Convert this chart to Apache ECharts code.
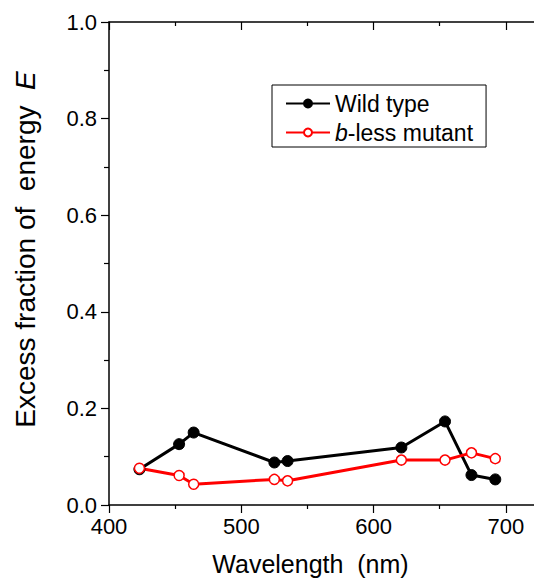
<!DOCTYPE html>
<html>
<head>
<meta charset="utf-8">
<script src="https://cdn.jsdelivr.net/npm/echarts@6/dist/echarts.min.js"></script>
<style>
  html, body { margin: 0; padding: 0; background: #fff; overflow: hidden; }
  /* the plot frame runs past the right edge of the picture */
  #chart { width: 575px; height: 581px; }
</style>
</head>
<body>
<div id="chart"></div>
<script>
// wavelength (nm) and excess fraction of energy E
var wildWl = [423, 453, 464, 525, 535, 621, 654, 674, 692];
var wildE = [0.074, 0.126, 0.150, 0.088, 0.091, 0.119, 0.173, 0.062, 0.053];
var mutantWl = [423, 453, 464, 525, 535, 621, 654, 674, 692];
var mutantE = [0.076, 0.061, 0.043, 0.053, 0.050, 0.093, 0.093, 0.108, 0.096];
var seriesNames = ['Wild type', 'b-less mutant'];

function pairs(xs, ys) {
  return xs.map(function(x, i) { return [x, ys[i]]; });
}

var font = 'Liberation Sans, Arial, sans-serif';
var chart = echarts.init(document.getElementById('chart'), null, { renderer: 'svg' });

var xBase = {
  type: 'value',
  min: 400,
  max: 750,
  interval: 100,
  axisLine: { lineStyle: { color: '#000', width: 1.5 } },
  splitLine: { show: false },
  minorTick: { show: true, splitNumber: 2, length: 4, lineStyle: { color: '#000', width: 1.2 } }
};

chart.setOption({
  animation: false,
  backgroundColor: '#fff',
  grid: { left: 109, right: 0, top: 22, bottom: 74 },
  legend: {
    orient: 'vertical',
    left: 272,
    top: 85,
    padding: [7, 13, 3, 13],
    itemGap: 6,
    itemWidth: 44,
    itemHeight: 10,
    borderColor: '#000',
    borderWidth: 1,
    borderRadius: 0,
    data: seriesNames,
    formatter: function(name) {
      return name === 'b-less mutant' ? '{it|b}-less mutant' : name;
    },
    textStyle: {
      fontFamily: font, fontSize: 23, color: '#000', lineHeight: 23,
      rich: { it: { fontFamily: font, fontSize: 23, fontStyle: 'italic', color: '#000' } }
    }
  },
  xAxis: [
    Object.assign({}, xBase, {
      position: 'bottom',
      name: 'Wavelength  (nm)',
      nameLocation: 'middle',
      nameGap: 46,
      nameTextStyle: { fontFamily: font, fontSize: 25, color: '#000', padding: [0, 60, 0, 0] },
      axisTick: { show: true, inside: false, length: 8, lineStyle: { color: '#000', width: 1.2 } },
      axisLabel: {
        fontFamily: font, fontSize: 22, color: '#000', margin: 10,
        formatter: function(v) { return v % 100 === 0 ? String(v) : ''; }
      }
    }),
    Object.assign({}, xBase, {
      position: 'top',
      axisTick: { show: true, inside: true, length: 8, lineStyle: { color: '#000', width: 1.2 } },
      axisLabel: { show: false }
    })
  ],
  yAxis: {
    type: 'value',
    min: 0,
    max: 1,
    interval: 0.2,
    name: 'Excess fraction of  energy  {it|E}',
    nameLocation: 'middle',
    nameGap: 70,
    nameTextStyle: {
      fontFamily: font, fontSize: 28, color: '#000', padding: [0, 0, 0, 28],
      rich: { it: { fontFamily: font, fontSize: 28, fontStyle: 'italic', color: '#000' } }
    },
    axisLine: { show: true, lineStyle: { color: '#000', width: 1.5 } },
    axisTick: { show: true, inside: false, length: 8, lineStyle: { color: '#000', width: 1.2 } },
    minorTick: { show: true, splitNumber: 2, length: 5, lineStyle: { color: '#000', width: 1.2 } },
    splitLine: { show: false },
    axisLabel: {
      fontFamily: font, fontSize: 22, color: '#000', margin: 12,
      formatter: function(v) { return v.toFixed(1); }
    }
  },
  series: [
    {
      name: seriesNames[0],
      type: 'line',
      data: pairs(wildWl, wildE),
      symbol: 'circle',
      symbolSize: 11,
      lineStyle: { color: '#000', width: 3 },
      itemStyle: { color: '#000', borderColor: '#000', borderWidth: 1 }
    },
    {
      name: seriesNames[1],
      type: 'line',
      data: pairs(mutantWl, mutantE),
      symbol: 'circle',
      symbolSize: 10,
      lineStyle: { color: '#ff0000', width: 3 },
      itemStyle: { color: '#fff', borderColor: '#ff0000', borderWidth: 1.5 }
    }
  ]
});
</script>
</body>
</html>
